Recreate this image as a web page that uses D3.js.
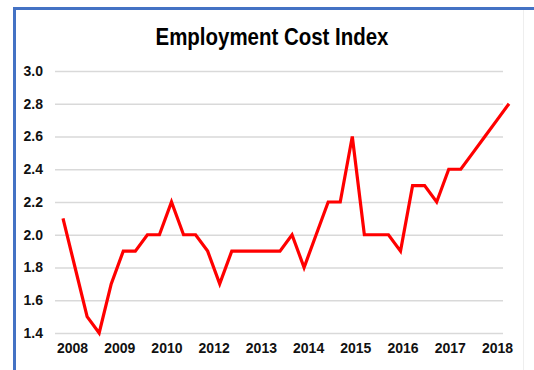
<!DOCTYPE html>
<html>
<head>
<meta charset="utf-8">
<script src="https://cdn.jsdelivr.net/npm/d3@7"></script>
<style>
body { margin: 0; background: #fff; }
svg { display: block; }
.txtTitle { font-family: "Liberation Sans", Arial, sans-serif; font-weight: bold; font-size: 23px; }
.tick text { font-family: "Liberation Sans Narrow", "Arial Narrow", "Liberation Sans", sans-serif; font-weight: bold; font-size: 14px; fill: #111; }
</style>
</head>
<body>
<div id="chart"></div>
<script>
// quarterly readings, left to right
var values = [2.1, 1.8, 1.5, 1.4, 1.7, 1.9, 1.9, 2.0, 2.0, 2.2,
    2.0, 2.0, 1.9, 1.7, 1.9, 1.9, 1.9, 1.9, 1.9, 2.0,
    1.8, 2.0, 2.2, 2.2, 2.6, 2.0, 2.0, 2.0, 1.9, 2.3,
    2.3, 2.2, 2.4, 2.4, 2.5, 2.6, 2.7, 2.8];
var yearLabels = ["2008", "2009", "2010", "2012", "2013", "2014", "2015", "2016", "2017", "2018"];
var yTicks = [1.4, 1.6, 1.8, 2.0, 2.2, 2.4, 2.6, 2.8, 3.0];

var width = 534;
var height = 370;

var svg = d3.select("#chart")
    .append("svg")
    .attr("width", width)
    .attr("height", height);

// frame
svg.append("rect")
    .attr("x", 0).attr("y", 0)
    .attr("width", width).attr("height", height)
    .attr("fill", "#fff");
svg.append("line")
    .attr("x1", 14.5).attr("y1", 8.5).attr("x2", width).attr("y2", 8.5)
    .attr("stroke", "#4472c4").attr("stroke-width", 3);
svg.append("line")
    .attr("x1", 14.5).attr("y1", 7).attr("x2", 14.5).attr("y2", height)
    .attr("stroke", "#4472c4").attr("stroke-width", 3);
svg.append("line")
    .attr("x1", 523.5).attr("y1", 10).attr("x2", 523.5).attr("y2", height)
    .attr("stroke", "#eeeeee").attr("stroke-width", 1);

svg.append("text")
    .attr("class", "txtTitle")
    .attr("x", 272)
    .attr("y", 45)
    .attr("text-anchor", "middle")
    .attr("textLength", 233)
    .attr("lengthAdjust", "spacingAndGlyphs")
    .text("Employment Cost Index");

var left = 55, right = 503;
var y = d3.scaleLinear().domain([1.4, 3.0]).range([333, 71]);
var x = d3.scaleLinear().domain([0, values.length - 1]).range([63, 509]);
var xLab = d3.scalePoint().domain(yearLabels).range([72, 497]);

// gridlines + y labels
var yAxis = svg.append("g")
    .attr("transform", "translate(" + left + ",0)")
    .call(d3.axisLeft(y).tickValues(yTicks).tickFormat(d3.format(".1f"))
        .tickSize(-(right - left)).tickPadding(12));
yAxis.select(".domain").remove();
yAxis.selectAll(".tick line").attr("stroke", "#d9d9d9").attr("stroke-width", 1.5);

var xAxis = svg.append("g")
    .attr("transform", "translate(0,333)")
    .call(d3.axisBottom(xLab).tickSize(0).tickPadding(10));
xAxis.select(".domain").remove();

var line = d3.line()
    .x(function(d, i) { return x(i); })
    .y(function(d) { return y(d); });

svg.append("path")
    .datum(values)
    .attr("d", line)
    .attr("fill", "none")
    .attr("stroke", "#ff0000")
    .attr("stroke-width", 3.2)
    .attr("stroke-linejoin", "miter");
</script>
</body>
</html>
